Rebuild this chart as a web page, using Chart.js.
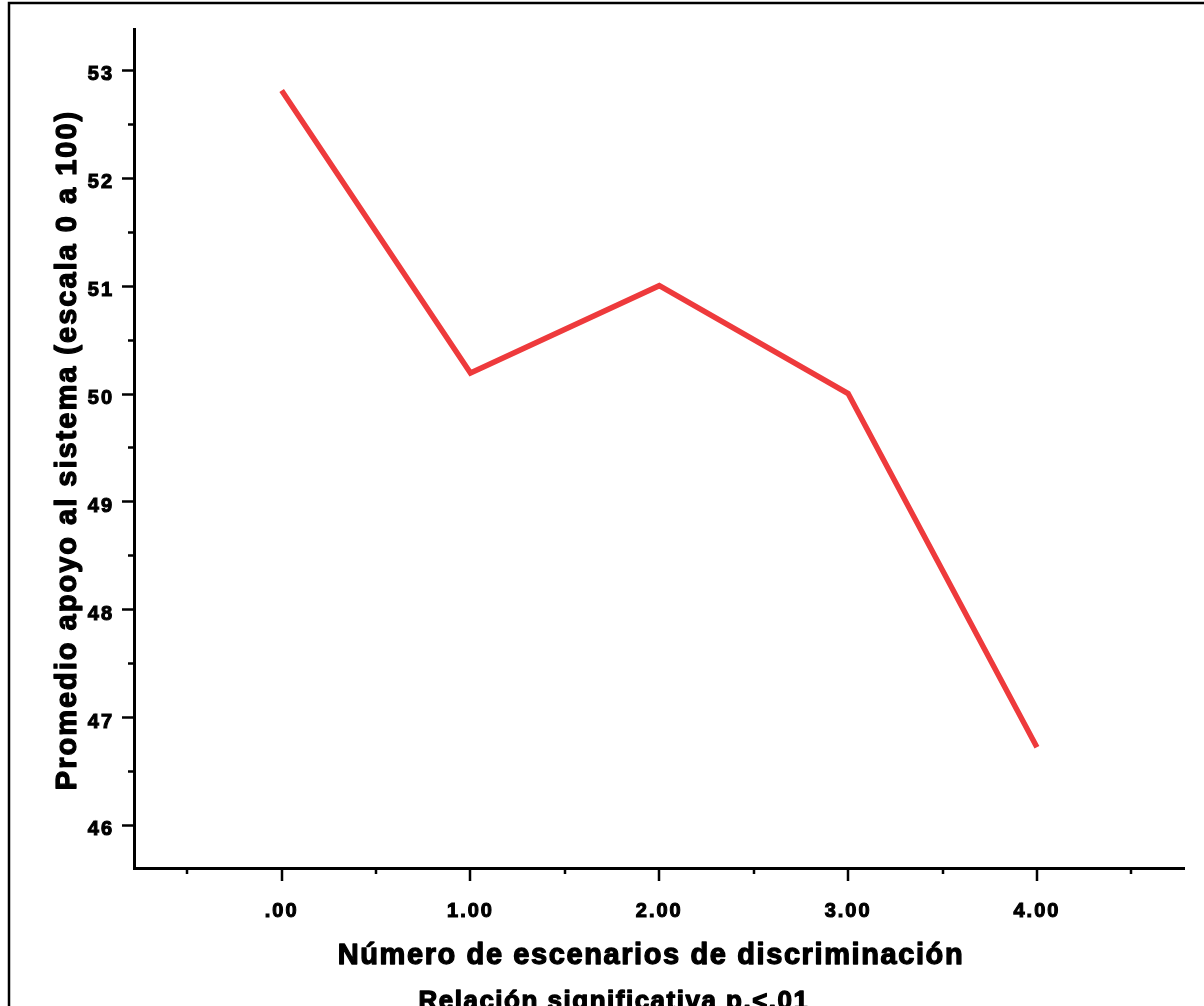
<!DOCTYPE html>
<html>
<head>
<meta charset="utf-8">
<script src="https://cdn.jsdelivr.net/npm/chart.js@4.4.0/dist/chart.umd.min.js"></script>
<style>
html,body{margin:0;padding:0;background:#fff;overflow:hidden;}
#wrap{position:relative;width:1204px;height:1006px;}
</style>
</head>
<body>
<div id="wrap"><canvas id="c" width="1204" height="1006"></canvas></div>
<script>
// ---- data ----
const xValues = [0, 1, 2, 3, 4];
const yValues = [52.81, 50.19, 51.0, 50.0, 46.72];
const xTickValues = [-0.5, 0, 0.5, 1, 1.5, 2, 2.5, 3, 3.5, 4, 4.5];
const xTickLabels = ['.00', '1.00', '2.00', '3.00', '4.00'];
const yTickValues = [46, 46.5, 47, 47.5, 48, 48.5, 49, 49.5, 50, 50.5, 51, 51.5, 52, 52.5, 53];
const xTitle = 'Número de escenarios de discriminación';
const yTitle = 'Promedio apoyo al sistema (escala 0 a 100)';
const subTitle = 'Relación significativa p.<.01';

const FONT = '"Liberation Sans", Arial, sans-serif';

function heavyText(ctx, text, x, y, size, spacing) {
  ctx.font = 'bold ' + size + 'px ' + FONT;
  ctx.letterSpacing = spacing + 'px';
  ctx.lineWidth = 1.3;
  ctx.lineJoin = 'round';
  ctx.strokeStyle = '#000';
  ctx.fillText(text, x, y);
  ctx.strokeText(text, x, y);
}

const decor = {
  id: 'decor',
  beforeDraw(chart) {
    chart.ctx.letterSpacing = '2px';
  },
  afterDraw(chart) {
    const ctx = chart.ctx;
    ctx.letterSpacing = '0px';
    const xs = chart.scales.x, ys = chart.scales.y;
    const area = chart.chartArea;
    ctx.save();
    // frame
    ctx.strokeStyle = '#000';
    ctx.lineWidth = 2.5;
    ctx.strokeRect(9, 3, 2000, 2000);
    // tick marks
    ctx.lineWidth = 2.5;
    ctx.lineCap = 'butt';
    ctx.beginPath();
    yTickValues.forEach(v => {
      const p = Math.round(ys.getPixelForValue(v)) + 0.5;
      const len = Number.isInteger(v) ? 12 : 6;
      ctx.moveTo(area.left, p);
      ctx.lineTo(area.left - len, p);
    });
    xTickValues.forEach(v => {
      const p = Math.round(xs.getPixelForValue(v));
      const len = Number.isInteger(v) ? 13 : 6;
      ctx.moveTo(p, area.bottom);
      ctx.lineTo(p, area.bottom + len);
    });
    ctx.stroke();
    // titles
    ctx.fillStyle = '#000';
    ctx.textAlign = 'center';
    ctx.textBaseline = 'alphabetic';
    heavyText(ctx, xTitle, 651, 964, 29, 1.6);
    heavyText(ctx, subTitle, 614, 1009, 26, 1.5);
    ctx.save();
    ctx.translate(76, 450);
    ctx.rotate(-Math.PI / 2);
    heavyText(ctx, yTitle, 0, 0, 29, 2.0);
    ctx.restore();
    ctx.restore();
  }
};

new Chart(document.getElementById('c'), {
  type: 'line',
  data: {
    datasets: [{
      data: xValues.map((x, i) => ({ x: x, y: yValues[i] })),
      borderColor: '#EE3A3C',
      borderWidth: 5.5,
      pointRadius: 0,
      tension: 0,
      borderJoinStyle: 'miter',
      fill: false
    }]
  },
  options: {
    responsive: false,
    animation: false,
    events: [],
    layout: { padding: { top: 29, right: 20, left: 0, bottom: 0 } },
    plugins: { legend: { display: false }, tooltip: { enabled: false }, title: { display: false } },
    scales: {
      x: {
        type: 'linear',
        min: -0.782,
        max: 4.779,
        afterBuildTicks: s => { s.ticks = xTickValues.map(v => ({ value: v })); },
        afterFit: s => { s.height = 138; },
        grid: { display: false },
        border: { display: true, color: '#000', width: 3 },
        ticks: {
          autoSkip: false,
          maxRotation: 0,
          padding: 23,
          color: '#000',
          textStrokeColor: '#000',
          textStrokeWidth: 1.1,
          font: { family: FONT, size: 20, weight: 'bold' },
          callback: v => Number.isInteger(v) ? xTickLabels[xValues.indexOf(v)] : ''
        }
      },
      y: {
        type: 'linear',
        min: 45.6,
        max: 53.38,
        afterBuildTicks: s => { s.ticks = yTickValues.map(v => ({ value: v })); },
        afterFit: s => { s.width = 134; },
        grid: { display: false },
        border: { display: true, color: '#000', width: 3 },
        ticks: {
          autoSkip: false,
          padding: 12,
          labelOffset: 5,
          color: '#000',
          textStrokeColor: '#000',
          textStrokeWidth: 1.1,
          font: { family: FONT, size: 20, weight: 'bold' },
          callback: v => Number.isInteger(v) ? String(v) : ''
        }
      }
    }
  },
  plugins: [decor]
});
</script>
</body>
</html>
